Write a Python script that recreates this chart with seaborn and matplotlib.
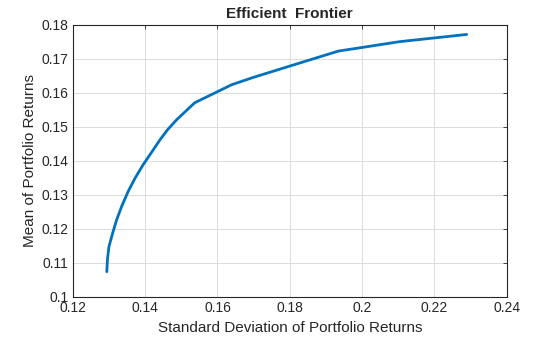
import matplotlib
matplotlib.use("Agg")
import matplotlib.pyplot as plt
import seaborn as sns
import pandas as pd

std_returns = [0.1294, 0.1295, 0.1296, 0.1300, 0.1310, 0.1321, 0.1335, 0.1353, 0.1372,
               0.1394, 0.1422, 0.1441, 0.1463, 0.1487, 0.1537, 0.1639,
               0.1700, 0.1800, 0.1934, 0.2105, 0.2289]
mean_returns = [0.1074, 0.1095, 0.1112, 0.1148, 0.1187, 0.1226, 0.1266, 0.1310, 0.1349,
                0.1388, 0.1432, 0.1462, 0.1493, 0.1521, 0.1571, 0.1624,
                0.1646, 0.1679, 0.1723, 0.1751, 0.1772]
x_ticks = [0.12, 0.14, 0.16, 0.18, 0.2, 0.22, 0.24]
x_tick_labels = ["0.12", "0.14", "0.16", "0.18", "0.2", "0.22", "0.24"]
y_ticks = [0.10, 0.11, 0.12, 0.13, 0.14, 0.15, 0.16, 0.17, 0.18]
y_tick_labels = ["0.1", "0.11", "0.12", "0.13", "0.14", "0.15", "0.16", "0.17", "0.18"]

df = pd.DataFrame({"std": std_returns, "mean": mean_returns})

sns.set_theme(style="white")
plt.rcParams['font.family'] = ['Liberation Sans', 'DejaVu Sans']

fig = plt.figure(figsize=(5.6, 3.37), dpi=100)
ax = fig.add_axes([0.130, 0.119, 0.775, 0.807])

sns.lineplot(data=df, x="std", y="mean", ax=ax, color="#0072BD", linewidth=2.0,
             sort=False, estimator=None)

ax.set_xlim(0.12, 0.24)
ax.set_ylim(0.10, 0.18)
ax.set_xticks(x_ticks)
ax.set_xticklabels(x_tick_labels)
ax.set_yticks(y_ticks)
ax.set_yticklabels(y_tick_labels)
ax.grid(True, color="#dcdcdc", linewidth=0.7)
ax.set_axisbelow(True)
ax.tick_params(direction="in", length=3, width=0.6, colors="#262626", labelsize=10,
               top=True, right=True, pad=3)
for s in ax.spines.values():
    s.set_color("#262626")
    s.set_linewidth(0.8)
ax.set_xlabel("Standard Deviation of Portfolio Returns", fontsize=11, color="#262626", labelpad=4)
ax.set_ylabel("Mean of Portfolio Returns", fontsize=11, color="#262626", labelpad=3)
ax.set_title("Efficient  Frontier", fontsize=11, fontweight="bold", color="#262626", pad=5)

fig.savefig("out.png", dpi=100)
